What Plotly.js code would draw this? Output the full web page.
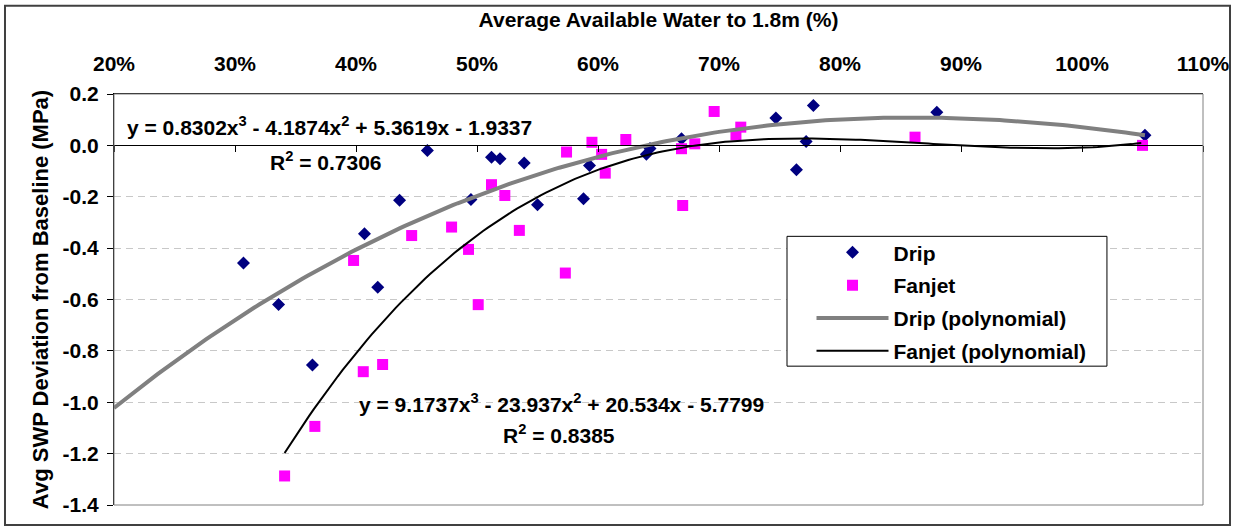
<!DOCTYPE html>
<html>
<head>
<meta charset="utf-8">
<script src="https://cdn.plot.ly/plotly-3.0.1.min.js"></script>
<style>
  html, body { margin: 0; padding: 0; background: #fff; }
  #chart { width: 1233px; height: 529px; }
</style>
</head>
<body>
<div id="chart"></div>
<script>
// ---- Data ----
const dripX = [0.307, 0.336, 0.364, 0.407, 0.418, 0.436, 0.459, 0.495, 0.512, 0.519, 0.539, 0.550,
               0.588, 0.593, 0.640, 0.643, 0.669, 0.747, 0.764, 0.772, 0.778, 0.880, 1.052];
const dripY = [-0.458, -0.619, -0.855, -0.344, -0.552, -0.214, -0.020, -0.211, -0.046, -0.052, -0.069, -0.231,
               -0.208, -0.078, -0.035, -0.012, 0.026, 0.107, -0.095, 0.015, 0.155, 0.129, 0.039];

const fanX = [0.341, 0.366, 0.398, 0.406, 0.422, 0.446, 0.479, 0.493, 0.501, 0.512, 0.523, 0.535, 0.573,
              0.574, 0.595, 0.603, 0.606, 0.623, 0.669, 0.670, 0.680, 0.696, 0.714, 0.718, 0.862, 1.050];
const fanY = [-1.287, -1.094, -0.448, -0.881, -0.853, -0.351, -0.318, -0.405, -0.620, -0.153, -0.195, -0.331, -0.497,
              -0.026, 0.012, -0.035, -0.108, 0.023, -0.013, -0.234, 0.006, 0.132, 0.041, 0.071, 0.032, 0.000];

// Trendline coefficients shown on the chart (cubic, highest power first)
const dripCoef = [0.8302, -4.1874, 5.3619, -1.9337];
const fanCoef  = [9.1737, -23.937, 20.534, -5.7799];
const dripFitRange = [0.2, 1.052];
const fanFitRange  = [0.341, 1.050];

const dripEqText = "y = 0.8302x<sup>3</sup> - 4.1874x<sup>2</sup> + 5.3619x - 1.9337";
const dripR2Text = "R<sup>2</sup> = 0.7306";
const fanEqText  = "y = 9.1737x<sup>3</sup> - 23.937x<sup>2</sup> + 20.534x - 5.7799";
const fanR2Text  = "R<sup>2</sup> = 0.8385";

const xTickVals = [0.2, 0.3, 0.4, 0.5, 0.6, 0.7, 0.8, 0.9, 1.0, 1.1];
const xTickText = ["20%", "30%", "40%", "50%", "60%", "70%", "80%", "90%", "100%", "110%"];
const yTickVals = [0.2, 0.0, -0.2, -0.4, -0.6, -0.8, -1.0, -1.2, -1.4];
const yTickText = ["0.2", "0.0", "-0.2", "-0.4", "-0.6", "-0.8", "-1.0", "-1.2", "-1.4"];

const seriesNames = ["Drip", "Fanjet", "Drip (polynomial)", "Fanjet (polynomial)"];
const xTitle = "Average Available Water to 1.8m (%)";
const yTitle = "Avg SWP Deviation from Baseline (MPa)";

// ---- Trendline evaluation ----
function polyCurve(coef, range, step) {
  const xs = [], ys = [];
  for (let x = range[0]; x <= range[1] + 1e-9; x += step) {
    xs.push(x);
    let y = 0;
    for (const c of coef) y = y * x + c;
    ys.push(y);
  }
  return { xs, ys };
}
const dripFit = polyCurve(dripCoef, dripFitRange, 0.004);
const fanFit  = polyCurve(fanCoef, fanFitRange, 0.004);

const FONT = "Liberation Sans, Arial, Helvetica, sans-serif";
const FS = 21;
const F = { family: FONT, size: FS, color: "#000", weight: "bold" };
const FY = { family: FONT, size: 22, color: "#000", weight: "bold" };

const traces = [
  { x: dripX, y: dripY, name: seriesNames[0], type: "scatter", mode: "markers", legendgroup: "g1",
    marker: { symbol: "diamond", size: 10, color: "#000080", line: { width: 0 } } },
  { x: fanX, y: fanY, name: seriesNames[1], type: "scatter", mode: "markers", legendgroup: "g2",
    marker: { symbol: "square", size: 11, color: "#FF00FF", line: { width: 0 } } },
  { x: dripFit.xs, y: dripFit.ys, name: seriesNames[2], type: "scatter", mode: "lines", legendgroup: "g3",
    line: { color: "#808080", width: 4 } },
  { x: fanFit.xs, y: fanFit.ys, name: seriesNames[3], type: "scatter", mode: "lines", legendgroup: "g4",
    line: { color: "#000000", width: 2 } },
  // carrier for the axis line drawn at y = 0 (no visible marks)
  { x: [xTickVals[0]], y: [null], xaxis: "x2", yaxis: "y", type: "scatter", mode: "markers",
    showlegend: false, hoverinfo: "skip", marker: { opacity: 0 } }
];

const layout = {
  width: 1233, height: 529,
  margin: { l: 114, r: 30, t: 93.5, b: 24 },
  paper_bgcolor: "#ffffff",
  plot_bgcolor: "#ffffff",
  font: F,
  showlegend: true,
  legend: {
    x: 0.6405, y: 0.6637, xanchor: "left", yanchor: "top",
    bgcolor: "rgba(0,0,0,0)", borderwidth: 0,
    font: F, itemwidth: 72, tracegroupgap: 2.5
  },
  xaxis: {
    range: [0.2, 1.1], side: "top",
    tickvals: xTickVals, ticktext: xTickText,
    ticks: "", showline: true, linecolor: "#000", linewidth: 1,
    showgrid: false, zeroline: false, ticklabelstandoff: 14,
    tickfont: F,
    title: { text: xTitle, standoff: 18, font: F },
    fixedrange: true
  },
  xaxis2: {
    overlaying: "x", matches: "x", anchor: "free", position: 0.875, side: "bottom",
    range: [0.2, 1.1], tickvals: xTickVals, showticklabels: false,
    ticks: "outside", ticklen: 6, tickcolor: "#000", tickwidth: 1,
    showline: true, linecolor: "#000", linewidth: 1,
    showgrid: false, zeroline: false, fixedrange: true
  },
  yaxis: {
    range: [-1.4, 0.2],
    tickvals: yTickVals, ticktext: yTickText,
    ticks: "outside", ticklen: 6, tickcolor: "#000",
    showline: true, linecolor: "#000", linewidth: 1,
    showgrid: true, gridcolor: "#C8C8C8", griddash: "7px,5px", gridwidth: 1,
    zeroline: false, ticklabelstandoff: 4,
    tickfont: F,
    title: { text: yTitle, standoff: 7, font: FY },
    fixedrange: true
  },
  shapes: [
    { type: "rect", xref: "paper", yref: "paper", x0: 0, x1: 1, y0: 0, y1: 1,
      line: { color: "#808080", width: 1 }, layer: "above" },
    { type: "rect", xref: "paper", yref: "paper", x0: -0.1001, x1: 1.0248, y0: -0.0486, y1: 1.215,
      line: { color: "#404040", width: 2 }, layer: "above" },
    // legend frame
    { type: "rect", xref: "paper", yref: "paper", x0: 0.618, x1: 0.9118, y0: 0.3378, y1: 0.6537,
      line: { color: "#000", width: 1 }, fillcolor: "#ffffff", layer: "above" }
  ],
  annotations: [
    { text: dripEqText, xref: "x", yref: "y", x: 0.209, y: 0.074, xanchor: "left", yanchor: "middle",
      showarrow: false, font: F },
    { text: dripR2Text, xref: "x", yref: "y", x: 0.375, y: -0.059, xanchor: "center", yanchor: "middle",
      showarrow: false, font: F },
    { text: fanEqText, xref: "x", yref: "y", x: 0.4008, y: -1.004, xanchor: "left", yanchor: "middle",
      showarrow: false, font: F },
    { text: fanR2Text, xref: "x", yref: "y", x: 0.568, y: -1.125, xanchor: "center", yanchor: "middle",
      showarrow: false, font: F }
  ]
};

Plotly.newPlot("chart", traces, layout, { displayModeBar: false, staticPlot: true });
</script>
</body>
</html>
